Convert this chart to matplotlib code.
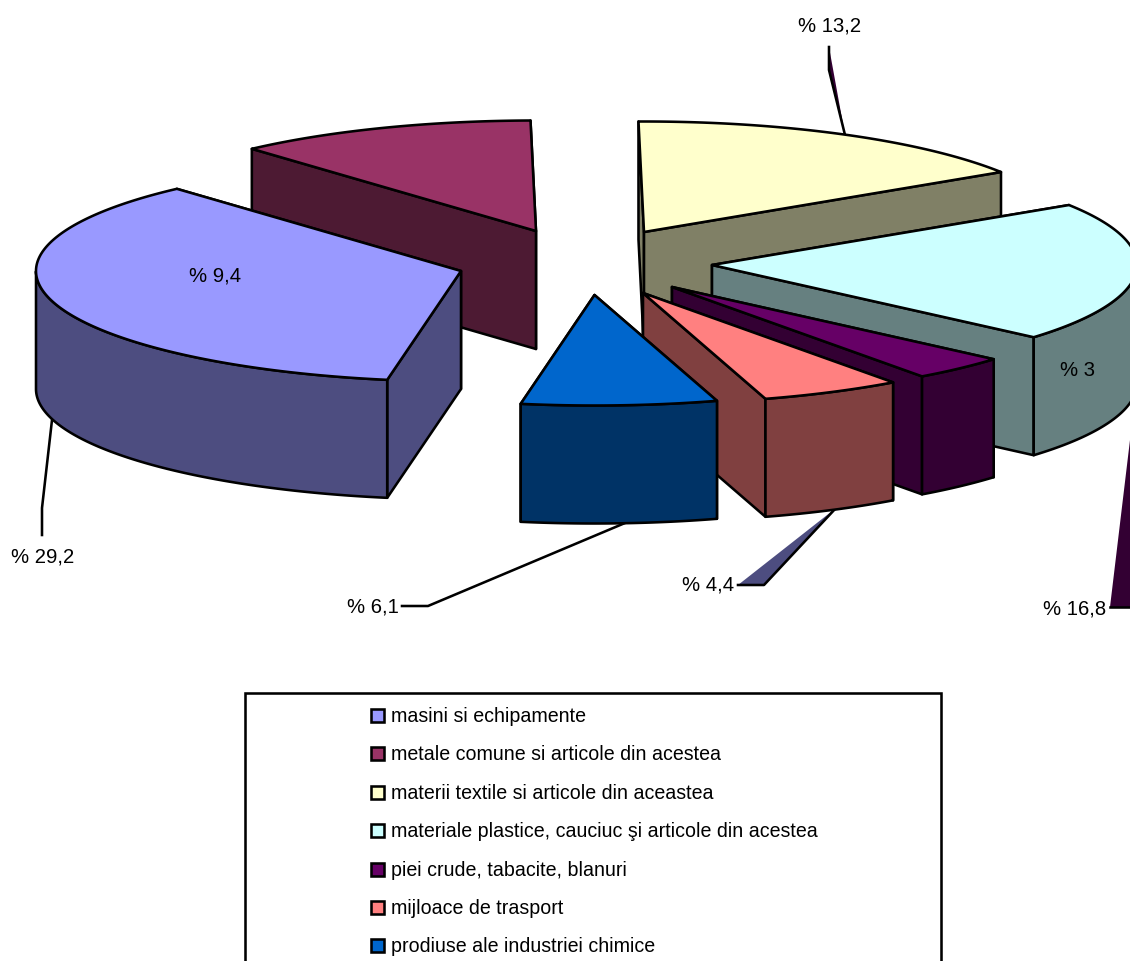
import numpy as np
import matplotlib
matplotlib.use('Agg')
import matplotlib.pyplot as plt
from matplotlib.patches import Polygon, Rectangle

plt.rcParams['font.family'] = ['Liberation Sans', 'DejaVu Sans']

categories = ['masini si echipamente',
              'metale comune si articole din acestea',
              'materii textile si articole din aceastea',
              'materiale plastice, cauciuc şi articole din acestea',
              'piei crude, tabacite, blanuri',
              'mijloace de trasport',
              'prodiuse ale industriei chimice']
values = [29.2, 9.4, 13.2, 16.8, 3.0, 4.4, 6.1]
top_colors = ['#9999FF', '#993366', '#FFFFCC', '#CCFFFF', '#660066', '#FF8080', '#0066CC']
side_colors = ['#4D4D80', '#4D1A33', '#808066', '#668080', '#330033', '#804040', '#003366']
# where each exploded slice has its apex, in picture pixels
apex_x = [461, 536, 644, 712, 672, 643, 594.5]
apex_y = [271, 231, 232, 265, 287, 293, 295]
draw_order = [1, 2, 0, 3, 4, 5, 6]

RX, RY, DEPTH = 425, 110.5, 118
START = 260.0
LW = 1.85
EDGE = dict(edgecolor='black', linewidth=LW, joinstyle='round')

fig = plt.figure(figsize=(11.30, 9.61), dpi=100)
ax = fig.add_axes([0, 0, 1, 1])
ax.set_xlim(0, 1130)
ax.set_ylim(961, 0)
ax.axis('off')

spans = np.array(values) / sum(values) * 360
ends = START - np.cumsum(spans)
starts = ends + spans


def rim(cx, cy, t):
    t = np.radians(t)
    return np.column_stack([cx + RX * np.cos(t), cy - RY * np.sin(t)])


# leader lines (behind the slices)
ax.add_patch(Polygon([(829, 47), (829, 70), (845, 135)], closed=True, facecolor=side_colors[4], edgecolor='none', zorder=1))
ax.plot([829, 829, 845], [47, 70, 135], color='black', lw=LW, zorder=1.1)
ax.add_patch(Polygon([(1110, 607), (1130, 607), (1130, 440)], closed=True, facecolor=side_colors[4], edgecolor='none', zorder=1))
ax.plot([1110, 1130], [607, 607], color='black', lw=LW, zorder=1.1)
ax.add_patch(Polygon([(738, 585), (764, 585), (836, 508)], closed=True, facecolor=side_colors[0], edgecolor='none', zorder=1))
ax.plot([738, 764, 836], [585, 585, 508], color='black', lw=LW, zorder=1.1)
ax.plot([402, 428, 625], [606, 606, 523], color='black', lw=LW, zorder=1.1)
ax.plot([42, 42, 52], [535, 508, 420], color='black', lw=LW, zorder=1.1)

z = 2
for i in draw_order:
    cx, cy = apex_x[i], apex_y[i]
    a0, a1 = starts[i], ends[i]
    # radial cut faces, the one further back first
    cuts = sorted([a0, a1], key=lambda a: rim(cx, cy, a)[0, 1])
    for a in cuts:
        p = rim(cx, cy, a)[0]
        ax.add_patch(Polygon([p, (cx, cy), (cx, cy + DEPTH), (p[0], p[1] + DEPTH)],
                             closed=True, facecolor=side_colors[i], zorder=z, **EDGE))
        z += 0.01
    # outer wall: only the part on the near half of the ellipse
    ts = np.linspace(a1, a0, 240)
    lo = ts[np.sin(np.radians(ts)) <= 0]
    if lo.size:
        upper = rim(cx, cy, lo)
        lower = upper + [0, DEPTH]
        ax.add_patch(Polygon(np.vstack([upper, lower[::-1]]), closed=True,
                             facecolor=side_colors[i], zorder=z, **EDGE))
        z += 0.01
    # top face
    arc = rim(cx, cy, np.linspace(a0, a1, 240))
    ax.add_patch(Polygon(np.vstack([[(cx, cy)], arc]), closed=True,
                         facecolor=top_colors[i], zorder=z, **EDGE))
    z += 0.01

LABEL = dict(fontsize=14.6, color='black', zorder=20, va='center')
ax.text(215, 276, '% 9,4', ha='center', **LABEL)
ax.text(1077, 371, '% 3', ha='center', **LABEL)
ax.text(829.5, 26, '% 13,2', ha='center', **LABEL)
ax.text(42.5, 557, '% 29,2', ha='center', **LABEL)
ax.text(372.5, 607, '% 6,1', ha='center', **LABEL)
ax.text(708, 585, '% 4,4', ha='center', **LABEL)
ax.text(1074.5, 609, '% 16,8', ha='center', **LABEL)

# legend box, running off the bottom of the picture
ax.add_patch(Rectangle((245, 693), 696, 320, facecolor='white', edgecolor='black', linewidth=LW, zorder=30))
for k, (name, col) in enumerate(zip(categories, top_colors)):
    y = 715.5 + k * 38.4
    ax.add_patch(Rectangle((371, y - 6.5), 13, 13, facecolor=col, edgecolor='black', linewidth=LW, zorder=31))
    ax.text(391, y + 1, name, fontsize=14.1, va='center', ha='left', zorder=31)

fig.savefig('out.png', dpi=100)
